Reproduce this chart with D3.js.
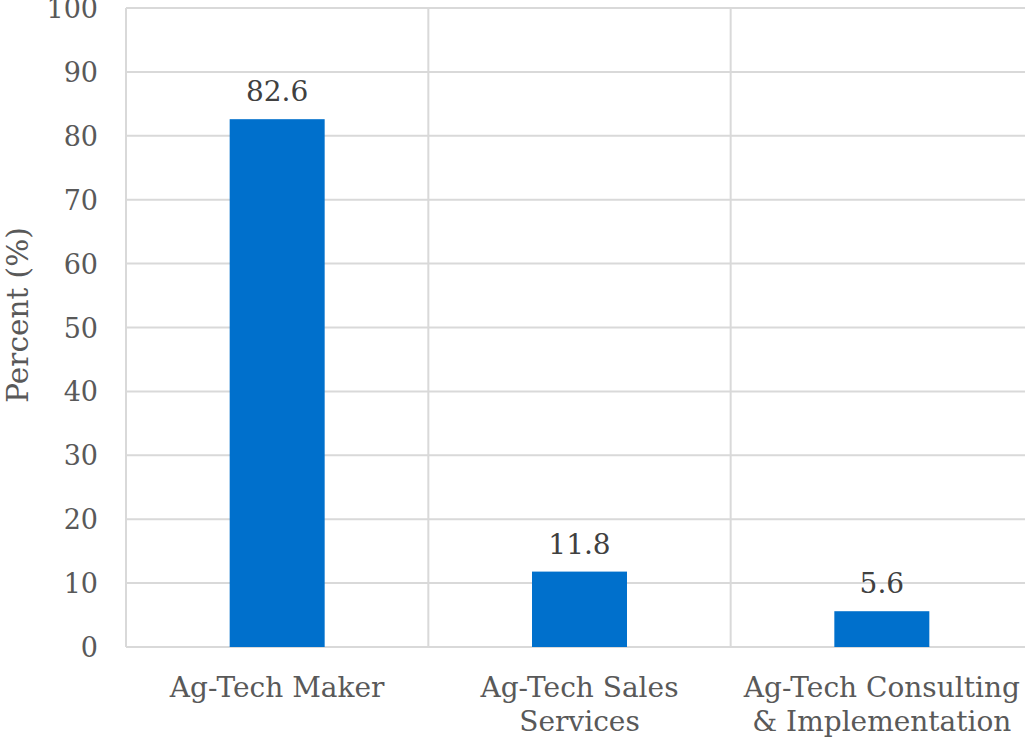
<!DOCTYPE html>
<html><head><meta charset="utf-8">
<script src="https://cdn.jsdelivr.net/npm/d3@7"></script>
<style>body{margin:0;background:#fff}svg text{font-family:Georgia,"DejaVu Serif",serif}</style>
</head><body>
<svg id="c" width="1025" height="738"></svg>
<script>
const categories = [["Ag-Tech Maker"], ["Ag-Tech Sales", "Services"], ["Ag-Tech Consulting", "& Implementation"]];
const values = [82.6, 11.8, 5.6];
const yTicks = [0,10,20,30,40,50,60,70,80,90,100];

(function(){
const svg = d3.select("#c");
const mLeft = 126, mRight = 1033, mTop = 8, mBottom = 647;
const x = d3.scaleBand().domain(d3.range(categories.length)).range([mLeft, mRight]).paddingInner(0).paddingOuter(0);
const y = d3.scaleLinear().domain([0,100]).range([mBottom, mTop]);
const grid = "#d9d9d9";

svg.append("g").selectAll("line").data(yTicks).join("line")
  .attr("x1", mLeft).attr("x2", mRight).attr("y1", d=>y(d)).attr("y2", d=>y(d))
  .attr("stroke", grid).attr("stroke-width", 2);
svg.append("g").selectAll("line").data(d3.range(categories.length+1)).join("line")
  .attr("x1", d=>mLeft + d*x.bandwidth()).attr("x2", d=>mLeft + d*x.bandwidth())
  .attr("y1", mTop).attr("y2", mBottom).attr("stroke", grid).attr("stroke-width", 2);

const bw = 95;
svg.append("g").selectAll("rect").data(values).join("rect")
  .attr("x", (d,i)=>x(i)+x.bandwidth()/2-bw/2).attr("width", bw)
  .attr("y", d=>y(d)).attr("height", d=>mBottom-y(d)).attr("fill", "#0070CC");

svg.append("g").selectAll("text").data(values).join("text")
  .attr("x", (d,i)=>x(i)+x.bandwidth()/2).attr("y", d=>y(d)-18)
  .attr("text-anchor","middle").attr("font-size", 28).attr("fill","#404040")
  .text(d=>d.toFixed(1));

svg.append("g").selectAll("text").data(yTicks).join("text")
  .attr("x", 98).attr("y", d=>y(d)+10).attr("text-anchor","end")
  .attr("font-size", 27).attr("fill","#595959").text(d=>d);

const cl = svg.append("g").selectAll("text").data(categories).join("text")
  .attr("text-anchor","middle").attr("font-size", 28).attr("fill","#595959");
cl.each(function(lines,i){
  const t = d3.select(this);
  lines.forEach((s,j)=>t.append("tspan").attr("x", x(i)+x.bandwidth()/2).attr("y", 697+j*34).text(s));
});

svg.append("text").attr("transform","translate(28,315) rotate(-90)")
  .attr("text-anchor","middle").attr("font-size", 29.5).attr("fill","#595959").text("Percent (%)");
})();
</script>
</body></html>
